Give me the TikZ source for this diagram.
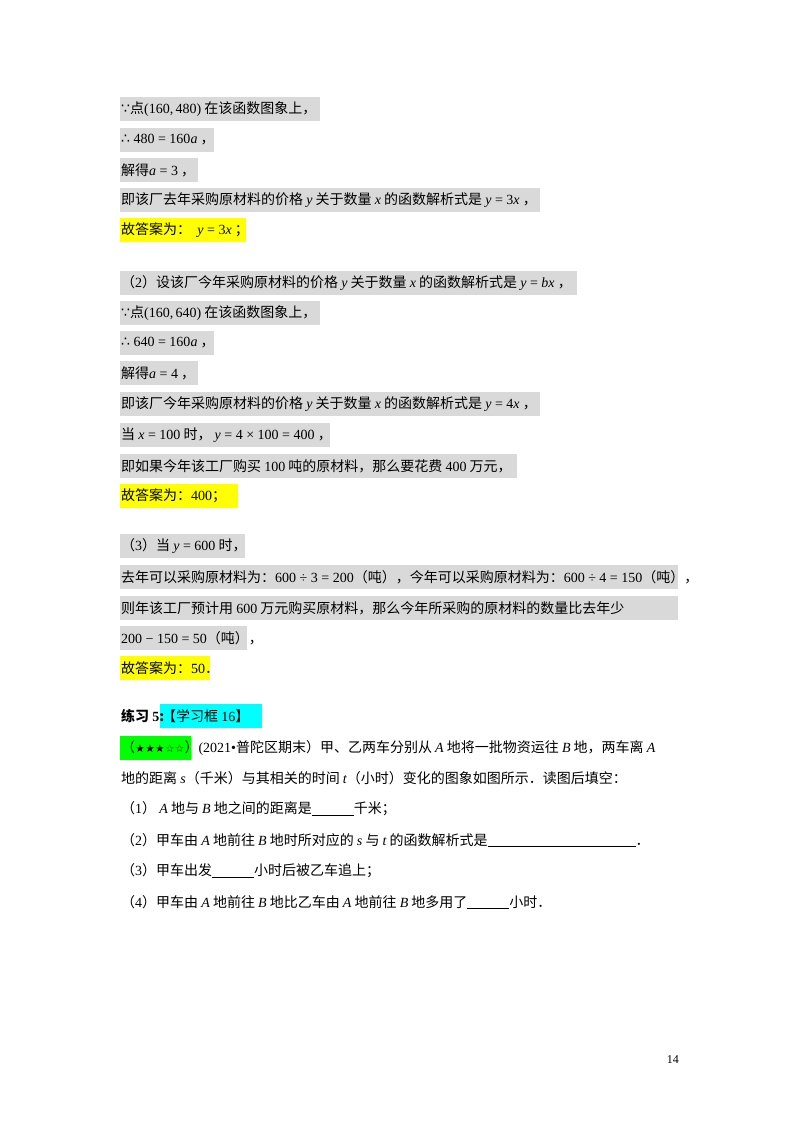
\documentclass[tikz,border=0pt]{standalone}
\usepackage{fontspec}
\setmainfont{Noto Sans CJK SC}
\newfontfamily\tm{Liberation Serif}
\newfontfamily\sym{DejaVu Sans}
\newcommand\mi[1]{{\tm\itshape #1}}
\newcommand\mr[1]{{\tm #1}}
\definecolor{gbox}{RGB}{217,217,217}
\definecolor{ybox}{RGB}{255,255,0}
\definecolor{cbox}{RGB}{0,255,255}
\definecolor{grbox}{RGB}{0,255,0}
\newcommand\rowbox[5][gbox]{%
  \fill[#1] (120pt,-#2pt+12pt) rectangle (#3pt,-#2pt-12pt);
  \node[txt] (#4) at (121pt,-#2pt) {#5};}
\begin{document}
\begin{tikzpicture}[x=1pt,y=1pt,txt/.style={anchor=west,inner sep=0pt,font=\fontsize{14}{16}\selectfont}]
\useasboundingbox (0,0) rectangle (800,-1132);
\fill[white] (0,0) rectangle (800,-1132);
\rowbox{109}{320}{l1}{{\sym ∵}点\mr{(160,\,480)} 在该函数图象上，}
\rowbox{140}{214}{l2}{{\sym ∴}\mr{ 480 = 160}\mi{a} ，}
\rowbox{170}{198}{l3}{解得\mi{a}\mr{ = 3} ，}
\rowbox{200}{540}{l4}{即该厂去年采购原材料的价格 \mi{y} 关于数量 \mi{x} 的函数解析式是 \mi{y}\mr{ = 3}\mi{x} ，}
\rowbox[ybox]{230}{246}{l5}{故答案为：\ \ \mi{y}\mr{ = 3}\mi{x} ；}
\rowbox{283}{577}{m1}{（\mr{2}）设该厂今年采购原材料的价格 \mi{y} 关于数量 \mi{x} 的函数解析式是 \mi{y}\mr{ = }\mi{bx} ，}
\rowbox{313}{320}{m2}{{\sym ∵}点\mr{(160,\,640)} 在该函数图象上，}
\rowbox{343}{214}{m3}{{\sym ∴}\mr{ 640 = 160}\mi{a} ，}
\rowbox{373}{198}{m4}{解得\mi{a}\mr{ = 4} ，}
\rowbox{404}{540}{m5}{即该厂今年采购原材料的价格 \mi{y} 关于数量 \mi{x} 的函数解析式是 \mi{y}\mr{ = 4}\mi{x} ，}
\rowbox{435}{330}{m6}{当 \mi{x}\mr{ = 100} 时，\ \mi{y}\mr{ = 4 × 100 = 400} ，}
\rowbox{466}{517}{m7}{即如果今年该工厂购买 \mr{100} 吨的原材料，那么要花费 \mr{400} 万元，}
\rowbox[ybox]{496}{238}{m8}{故答案为：\mr{400}；}
\rowbox{546}{245}{n1}{（\mr{3}）当 \mi{y}\mr{ = 600} 时，}
\rowbox{577}{678}{n2}{去年可以采购原材料为：\mr{600 ÷ 3 = 200}（吨），今年可以采购原材料为：\mr{600 ÷ 4 = 150}（吨），}
\rowbox{608}{678}{n3}{则年该工厂预计用 \mr{600} 万元购买原材料，那么今年所采购的原材料的数量比去年少}
\rowbox{638}{247}{n4}{\mr{200 − 150 = 50}（吨），}
\rowbox[ybox]{668}{210}{n5}{故答案为：\mr{50}．}
\fill[cbox] (160,-704) rectangle (262,-728);
\node[txt] (p1) at (121,-716) {\textbf{练习 \mr{\bfseries 5}:}};
\node[txt] (p2) at (162,-716) {【学习框 \mr{16}】};
\fill[grbox] (120,-736) rectangle (191,-760);
\node[txt] (q1) at (121,-748) {（{\sym\fontsize{11}{13}\selectfont ★★★☆☆}）\mr{(2021•}普陀区期末）甲、乙两车分别从 \mi{A} 地将一批物资运往 \mi{B} 地，两车离 \mi{A}};
\node[txt] (q2) at (121,-778) {地的距离 \mi{s}（千米）与其相关的时间 \mi{t}（小时）变化的图象如图所示．读图后填空：};
\node[txt] (q3) at (121,-809) {（\mr{1}）\ \mi{A} 地与 \mi{B} 地之间的距离是\underline{\hspace{42pt}}千米；};
\node[txt] (q4) at (121,-840) {（\mr{2}）甲车由 \mi{A} 地前往 \mi{B} 地时所对应的 \mi{s} 与 \mi{t} 的函数解析式是\underline{\hspace{148pt}}．};
\node[txt] (q5) at (121,-871) {（\mr{3}）甲车出发\underline{\hspace{42pt}}小时后被乙车追上；};
\node[txt] (q6) at (121,-902) {（\mr{4}）甲车由 \mi{A} 地前往 \mi{B} 地比乙车由 \mi{A} 地前往 \mi{B} 地多用了\underline{\hspace{42pt}}小时．};
\node[anchor=east,inner sep=0pt,font=\tm\fontsize{12}{14}\selectfont] (pg) at (679,-1060) {14};
\end{tikzpicture}
\end{document}
